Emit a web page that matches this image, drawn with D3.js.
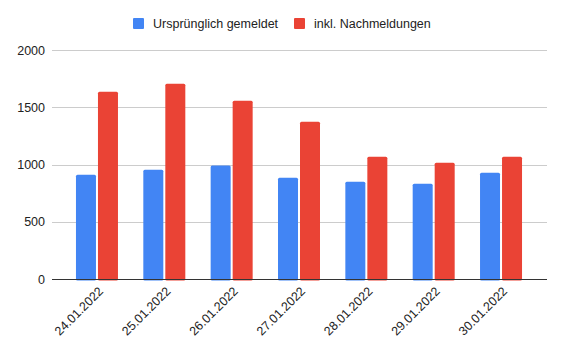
<!DOCTYPE html>
<html>
<head>
<meta charset="utf-8">
<script src="https://cdn.jsdelivr.net/npm/d3@7"></script>
<style>
  body { margin: 0; background: #fff; }
  text { font-family: "Liberation Sans", Arial, sans-serif; }
</style>
</head>
<body>
<div class="chart"></div>
<script>
const dates = ["24.01.2022", "25.01.2022", "26.01.2022", "27.01.2022", "28.01.2022", "29.01.2022", "30.01.2022"];
const original = [910, 954, 991, 884, 849, 831, 927];
const withLate = [1636, 1706, 1557, 1374, 1067, 1015, 1067];
const seriesNames = ["Ursprünglich gemeldet", "inkl. Nachmeldungen"];
const colors = ["#4285f4", "#ea4335"];
const yTicks = [0, 500, 1000, 1500, 2000];

const svgW = 564;
const svgH = 352;
const plotL = 52, plotR = 547, plotT = 50, plotB = 279;
const fontSize = "12.5px";

const svg = d3.select(".chart")
  .append("svg")
  .attr("width", svgW)
  .attr("height", svgH);

const xScale = d3.scaleBand()
  .domain(dates)
  .range([63.3, 534.7])
  .paddingInner(0)
  .paddingOuter(0);

const barW = 20, gap = 2;

const yScale = d3.scaleLinear()
  .domain([0, 2000])
  .range([plotB, plotT]);

// gridlines
svg.append("g")
  .selectAll("line")
  .data(yTicks.filter(d => d > 0))
  .enter()
  .append("line")
  .attr("x1", plotL)
  .attr("x2", plotR)
  .attr("y1", d => Math.round(yScale(d)) + 0.5)
  .attr("y2", d => Math.round(yScale(d)) + 0.5)
  .attr("stroke", "#cccccc");

// y labels
svg.append("g")
  .selectAll("text")
  .data(yTicks)
  .enter()
  .append("text")
  .attr("x", 45)
  .attr("y", d => yScale(d) + 4.5)
  .attr("text-anchor", "end")
  .style("font-size", fontSize)
  .style("fill", "#222")
  .text(d => d);

// bars
const series = [original, withLate];
series.forEach((vals, si) => {
  svg.append("g")
    .selectAll("rect")
    .data(vals)
    .enter()
    .append("rect")
    .attr("x", (d, i) => xScale(dates[i]) + xScale.bandwidth() / 2 - barW - gap / 2 + si * (barW + gap))
    .attr("y", d => yScale(d))
    .attr("width", barW)
    .attr("height", d => plotB - yScale(d) + 1.5)
    .attr("rx", 1.5)
    .attr("fill", colors[si]);
});

// baseline
svg.append("line")
  .attr("x1", plotL)
  .attr("x2", plotR)
  .attr("y1", plotB + 0.5)
  .attr("y2", plotB + 0.5)
  .attr("stroke", "#333");

// x labels
svg.append("g")
  .selectAll("text")
  .data(dates)
  .enter()
  .append("text")
  .attr("transform", d => {
    const cx = xScale(d) + xScale.bandwidth() / 2 + 7;
    return `translate(${cx}, 292) rotate(-45)`;
  })
  .attr("text-anchor", "end")
  .style("font-size", fontSize)
  .style("fill", "#222")
  .text(d => d);

// legend
const legend = svg.append("g");
const legendX = [133, 294];
seriesNames.forEach((name, i) => {
  legend.append("rect")
    .attr("x", legendX[i])
    .attr("y", 18)
    .attr("width", 11)
    .attr("height", 11)
    .attr("rx", 1)
    .attr("fill", colors[i]);
  legend.append("text")
    .attr("x", legendX[i] + 20)
    .attr("y", 28)
    .style("font-size", fontSize)
    .style("fill", "#222")
    .text(name);
});
</script>
</body>
</html>
